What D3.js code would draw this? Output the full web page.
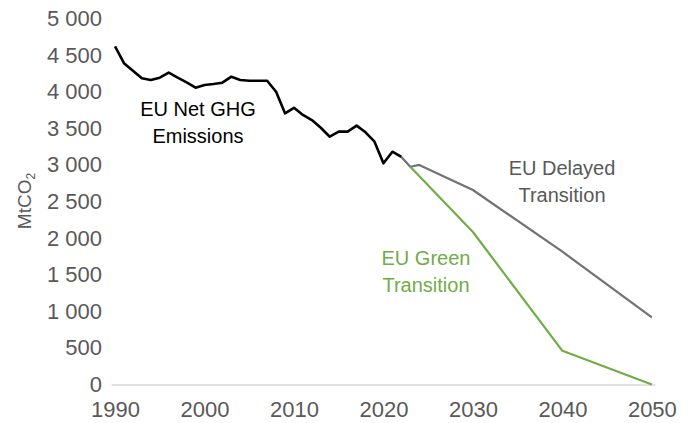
<!DOCTYPE html>
<html>
<head>
<meta charset="utf-8">
<script src="https://cdn.jsdelivr.net/npm/d3@7"></script>
<style>
  body { margin: 0; background: #fff; }
  svg { display: block; font-family: "Liberation Sans", Arial, sans-serif; }
  .tick text { fill: #595959; font-size: 22px; }
  .note { font-size: 20px; text-anchor: middle; }
</style>
</head>
<body>
<svg width="690" height="423"></svg>
<script>
// historic net emissions (MtCO2)
var histYears = [1990, 1991, 1992, 1993, 1994, 1995, 1996, 1997, 1998, 1999,
                 2000, 2001, 2002, 2003, 2004, 2005, 2006, 2007, 2008, 2009,
                 2010, 2011, 2012, 2013, 2014, 2015, 2016, 2017, 2018, 2019,
                 2020, 2021, 2022];
var histValues = [4620, 4390, 4287, 4183, 4160, 4191, 4260, 4191, 4128, 4055,
                  4092, 4105, 4123, 4205, 4160, 4150, 4150, 4150, 4000, 3705,
                  3780, 3682, 3613, 3508, 3385, 3454, 3454, 3536, 3445, 3317,
                  3022, 3180, 3108];

var delayedYears = [2022, 2023, 2024, 2030, 2040, 2050];
var delayedValues = [3108, 2975, 3000, 2657, 1814, 918];

var greenYears = [2023, 2030, 2040, 2050];
var greenValues = [2975, 2083, 460, 0];

var xTicks = [1990, 2000, 2010, 2020, 2030, 2040, 2050];
var yTicks = [0, 500, 1000, 1500, 2000, 2500, 3000, 3500, 4000, 4500, 5000];

var svg = d3.select("svg");

var x = d3.scaleLinear().domain([1989.55, 2050.35]).range([111, 655]);
var y = d3.scaleLinear().domain([0, 5000]).range([384.5, 18.5]);

var fmt = d3.formatLocale({ decimal: ",", thousands: " ", grouping: [3], currency: ["", ""] }).format(",");

// y axis labels
var gy = svg.append("g")
  .attr("transform", "translate(111,0)")
  .call(d3.axisLeft(y).tickValues(yTicks).tickFormat(fmt).tickSize(0).tickPadding(9));
gy.select(".domain").remove();

// x axis with zero line
var gx = svg.append("g")
  .attr("transform", "translate(0," + y(0) + ")")
  .call(d3.axisBottom(x).tickValues(xTicks).tickFormat(d3.format("d")).tickSize(0).tickPadding(17));
gx.select(".domain").attr("stroke", "#d9d9d9").attr("stroke-width", 1.5);

svg.append("text")
  .attr("transform", "translate(31,201) rotate(-90)")
  .attr("text-anchor", "middle")
  .attr("fill", "#595959")
  .style("font-size", "19px")
  .text("MtCO")
  .append("tspan")
  .attr("dy", 4)
  .style("font-size", "12px")
  .text("2");

function series(xs, vs) {
  return xs.map(function(d, i) { return [d, vs[i]]; });
}

var line = d3.line()
  .x(function(d) { return x(d[0]); })
  .y(function(d) { return y(d[1]); });

svg.append("path")
  .datum(series(delayedYears, delayedValues))
  .attr("fill", "none")
  .attr("stroke", "#767171")
  .attr("stroke-width", 2.2)
  .attr("stroke-linejoin", "round")
  .attr("d", line);

svg.append("path")
  .datum(series(greenYears, greenValues))
  .attr("fill", "none")
  .attr("stroke", "#70ad47")
  .attr("stroke-width", 2.2)
  .attr("stroke-linejoin", "round")
  .attr("d", line);

svg.append("path")
  .datum(series(histYears, histValues))
  .attr("fill", "none")
  .attr("stroke", "#000")
  .attr("stroke-width", 2.6)
  .attr("stroke-linejoin", "round")
  .attr("d", line);

// annotations
var notes = [
  { lines: ["EU Net GHG", "Emissions"], cx: 198, y0: 116, color: "#000" },
  { lines: ["EU Delayed", "Transition"], cx: 562, y0: 175, color: "#595959" },
  { lines: ["EU Green", "Transition"], cx: 426, y0: 265, color: "#70ad47" }
];
notes.forEach(function(n) {
  var t = svg.append("text").attr("class", "note").attr("fill", n.color);
  n.lines.forEach(function(s, i) {
    t.append("tspan").attr("x", n.cx).attr("y", n.y0 + i * 27).text(s);
  });
});
</script>
</body>
</html>
